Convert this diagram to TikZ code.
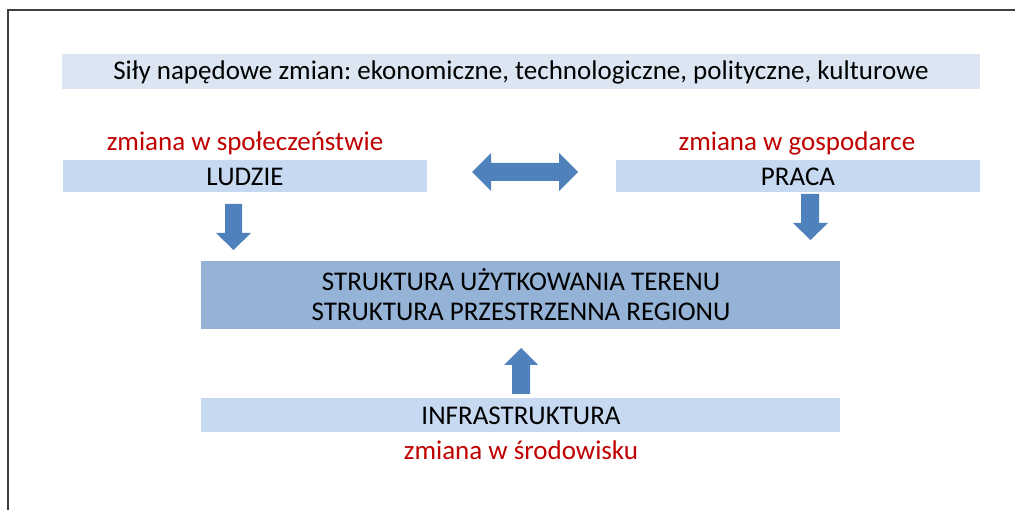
\documentclass[tikz,border=0pt]{standalone}
\usepackage{fontspec}
\setmainfont{Carlito}
\frenchspacing
\begin{document}
\begin{tikzpicture}[x=1pt,y=-1pt,
  box/.style={fill=#1, draw=none},
  txt/.style={font=\fontsize{27}{30}\selectfont, text=black, inner sep=0pt, align=center},
  redtxt/.style={font=\fontsize{27}{30}\selectfont, text=redc, inner sep=0pt},
  blockarrow/.style={fill=arrowc, draw=none}]
\definecolor{banner}{HTML}{DCE6F2}
\definecolor{lightbox}{HTML}{C6D9F1}
\definecolor{midbox}{HTML}{95B3D7}
\definecolor{arrowc}{HTML}{4F81BD}
\definecolor{redc}{HTML}{C00000}
\definecolor{framec}{HTML}{404040}
\useasboundingbox (0,0) rectangle (1015,510);
\fill[white] (0,0) rectangle (1015,510);
% frame
\coordinate (f1) at (1015,10);
\coordinate (f2) at (8,10);
\coordinate (f3) at (8,510);
\draw[framec, line width=1.5pt] (f1) -- (f2) -- (f3);
% boxes
\fill[box=banner] (62,54) rectangle (980,89);
\node[txt] (sily) at (521,72) {Siły napędowe zmian: ekonomiczne, technologiczne, polityczne, kulturowe};
\node[redtxt] (zs) at (245,143) {zmiana w społeczeństwie};
\fill[box=lightbox] (63,160) rectangle (427,192);
\node[txt] (ludzie) at (245,176.5) {LUDZIE};
\node[redtxt] (zg) at (797,143) {zmiana w gospodarce};
\fill[box=lightbox] (616,160) rectangle (980,192);
\node[txt] (praca) at (798,176.5) {PRACA};
\fill[box=midbox] (201,261) rectangle (840,329);
\node[txt] (struct) at (521,294.5) {STRUKTURA UŻYTKOWANIA TERENU\\STRUKTURA PRZESTRZENNA REGIONU};
\fill[box=lightbox] (201,398) rectangle (840,432);
\node[txt] (infra) at (521,415.5) {INFRASTRUKTURA};
\node[redtxt] (zsr) at (521,450) {zmiana w środowisku};
% double arrow
\fill[blockarrow] (472,172) -- (491,153) -- (491,163) -- (559,163) -- (559,153) -- (578,172)
  -- (559,191) -- (559,181) -- (491,181) -- (491,191) -- cycle;
% left down arrow
\fill[blockarrow] (225,204) -- (242,204) -- (242,233) -- (251,233) -- (233.5,250) -- (216,233) -- (225,233) -- cycle;
% right down arrow
\fill[blockarrow] (801,194) -- (819,194) -- (819,223) -- (828,223) -- (810.5,240) -- (793,223) -- (801,223) -- cycle;
% up arrow
\fill[blockarrow] (512,394) -- (530,394) -- (530,365) -- (538,365) -- (521,348) -- (504,365) -- (512,365) -- cycle;
\end{tikzpicture}
\end{document}
